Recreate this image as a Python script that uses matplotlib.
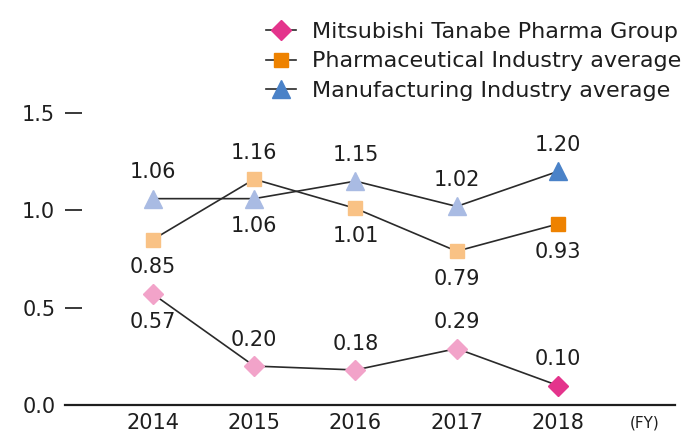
import matplotlib
matplotlib.use("Agg")
import matplotlib.pyplot as plt
from matplotlib.lines import Line2D

years = ["2014", "2015", "2016", "2017", "2018"]
mtpg = [0.57, 0.20, 0.18, 0.29, 0.10]
pharma = [0.85, 1.16, 1.01, 0.79, 0.93]
manuf = [1.06, 1.06, 1.15, 1.02, 1.20]
series_names = ["Mitsubishi Tanabe Pharma Group",
                "Pharmaceutical Industry average",
                "Manufacturing Industry average"]
yticks = [0.0, 0.5, 1.0, 1.5]

plt.rcParams['font.family'] = ['DejaVu Sans']
TXT = '#1e1e1e'
FS = 15

fig = plt.figure(figsize=(6.94, 4.34), dpi=100)
W, H = 694, 434
ax = fig.add_axes([65 / W, (H - 405) / H, 610 / W, (405 - 113) / H])

x = list(range(len(years)))
styles = [
    (mtpg, 'D', 10, '#F2A3C9', '#E4348C'),
    (pharma, 's', 10.5, '#F9C285', '#EE8200'),
    (manuf, '^', 13, '#A9BBE3', '#4A82C8'),
]
# label placement: +1 above, -1 below
placement = [
    [-1, 1, 1, 1, 1],
    [-1, 1, -1, -1, -1],
    [1, -1, 1, 1, 1],
]

handles = []
for (vals, mk, ms, light, dark), pl, name in zip(styles, placement, series_names):
    ax.plot(x, vals, color='#2a2a2a', lw=1.2, zorder=2, clip_on=False)
    for i, v in enumerate(vals):
        c = dark if i == len(vals) - 1 else light
        ax.plot([i], [v], marker=mk, ms=ms, color=c, mec=c, ls='none',
                zorder=3, clip_on=False)
        off = 19 if pl[i] > 0 else -20
        ax.annotate(f"{v:.2f}", (i, v), xytext=(0, off), textcoords='offset points',
                    ha='center', va='center', fontsize=FS, color=TXT)
    handles.append(Line2D([0], [0], color='#2a2a2a', lw=1.2, marker=mk, ms=ms,
                          mfc=dark, mec=dark))

ax.set_xlim(-0.869, 5.156)
ax.set_ylim(0, 1.5)
ax.set_xticks(x)
ax.set_xticklabels(years)
ax.set_yticks(yticks)
ax.set_yticklabels([f"{t:.1f}" for t in yticks])
for s in ['top', 'right', 'left']:
    ax.spines[s].set_visible(False)
ax.spines['bottom'].set_linewidth(1.6)
ax.spines['bottom'].set_color('#1e1e1e')
ax.tick_params(axis='x', length=0, pad=6, labelsize=FS, labelcolor=TXT)
ax.tick_params(axis='y', direction='in', length=12, width=1.3, color='#2a2a2a',
               pad=7, labelsize=FS, labelcolor=TXT)
ax.text(4.86, -0.09, "(FY)", ha='center', va='center', fontsize=11, color=TXT)

leg = fig.legend(handles, series_names, loc='upper left',
                 bbox_to_anchor=(266 / W, (H - 22) / H), frameon=False,
                 fontsize=16, handlelength=1.35, handletextpad=0.7,
                 labelspacing=0.42, borderaxespad=0, borderpad=0)
for t in leg.get_texts():
    t.set_color(TXT)

fig.savefig("out.png", dpi=100)
